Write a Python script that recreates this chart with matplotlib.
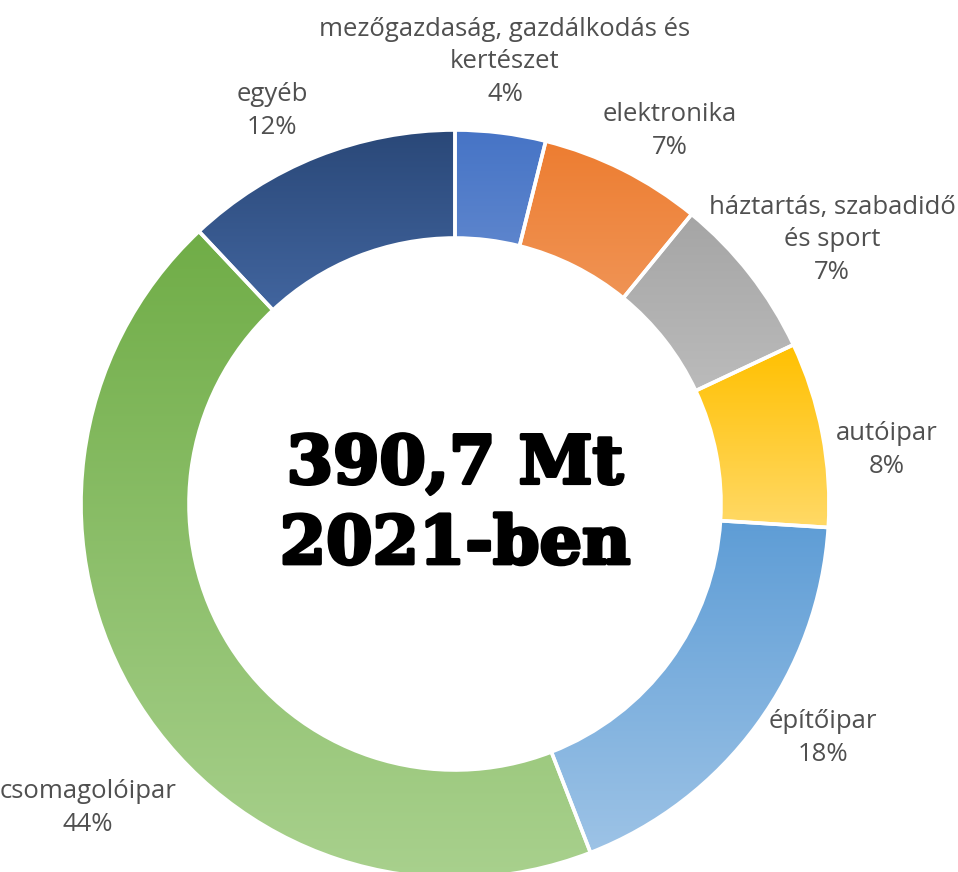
import numpy as np
import matplotlib
matplotlib.use("Agg")
import matplotlib.pyplot as plt
import matplotlib.patheffects as pe
from matplotlib.colors import to_rgb

# data, clockwise from the top
labels = ["mezőgazdaság, gazdálkodás és\nkertészet", "elektronika",
          "háztartás, szabadidő\nés sport", "autóipar", "építőipar",
          "csomagolóipar", "egyéb"]
shares = [3.9, 7.0, 7.1, 8.0, 18.1, 43.9, 12.0]
centre_text = "390,7 Mt\n2021-ben"

# gradient colours (top -> bottom of each wedge)
tops = ["#4674C6", "#ED7D31", "#A5A5A5", "#FFC000", "#5B9BD5", "#70AD47", "#2A4878"]
bottoms = ["#8FAADC", "#F4B183", "#C9C9C9", "#FFD966", "#9DC3E6", "#A9D18E", "#5B84C8"]

# label anchor points in pixels of the 958x872 picture
label_px = [(505, 62), (670, 131), (832, 240), (887, 450), (823, 738), (88, 808), (272, 111)]

W, H = 958, 872
CX, CY, R = 455, 504, 374


def px2data(px, py):
    return (px - CX) / R, (CY - py) / R


fig = plt.figure(figsize=(W / 100, H / 100), dpi=100)
ax = fig.add_axes([0, 0, 1, 1])

wedges, _ = ax.pie(shares, startangle=90, counterclock=False, radius=1,
                   wedgeprops=dict(width=108 / R, facecolor="none",
                                   edgecolor="white", linewidth=2.6, zorder=3))

for w, c1, c2 in zip(wedges, tops, bottoms):
    verts = w.get_path().vertices
    x0, y0 = verts.min(axis=0)
    x1, y1 = verts.max(axis=0)
    t = np.linspace(0, 1, 256)[:, None]
    grad = (1 - t) * np.array(to_rgb(c1)) + t * np.array(to_rgb(c2))
    im = ax.imshow(grad[:, None, :], extent=(x0, x1, y0, y1), origin="upper",
                   aspect="auto", interpolation="bilinear", zorder=2)
    im.set_clip_path(w)

for lab, s, (px, py) in zip(labels, shares, label_px):
    x, y = px2data(px, py)
    ax.text(x, y, f"{lab}\n{round(s)}%", ha="center", va="center",
            fontsize=18.5, family="Open Sans", color="#505050", linespacing=1.38)

ax.text(0, px2data(0, 505)[1], centre_text, ha="center", va="center",
        fontsize=48, family="DejaVu Serif", weight="heavy", color="black",
        linespacing=1.3,
        path_effects=[pe.withStroke(linewidth=2.5, foreground="black")])

ax.set_xlim(-CX / R, (W - CX) / R)
ax.set_ylim(-(H - CY) / R, CY / R)
ax.set_aspect("auto")
ax.axis("off")

fig.savefig("out.png", dpi=100, facecolor="white")
